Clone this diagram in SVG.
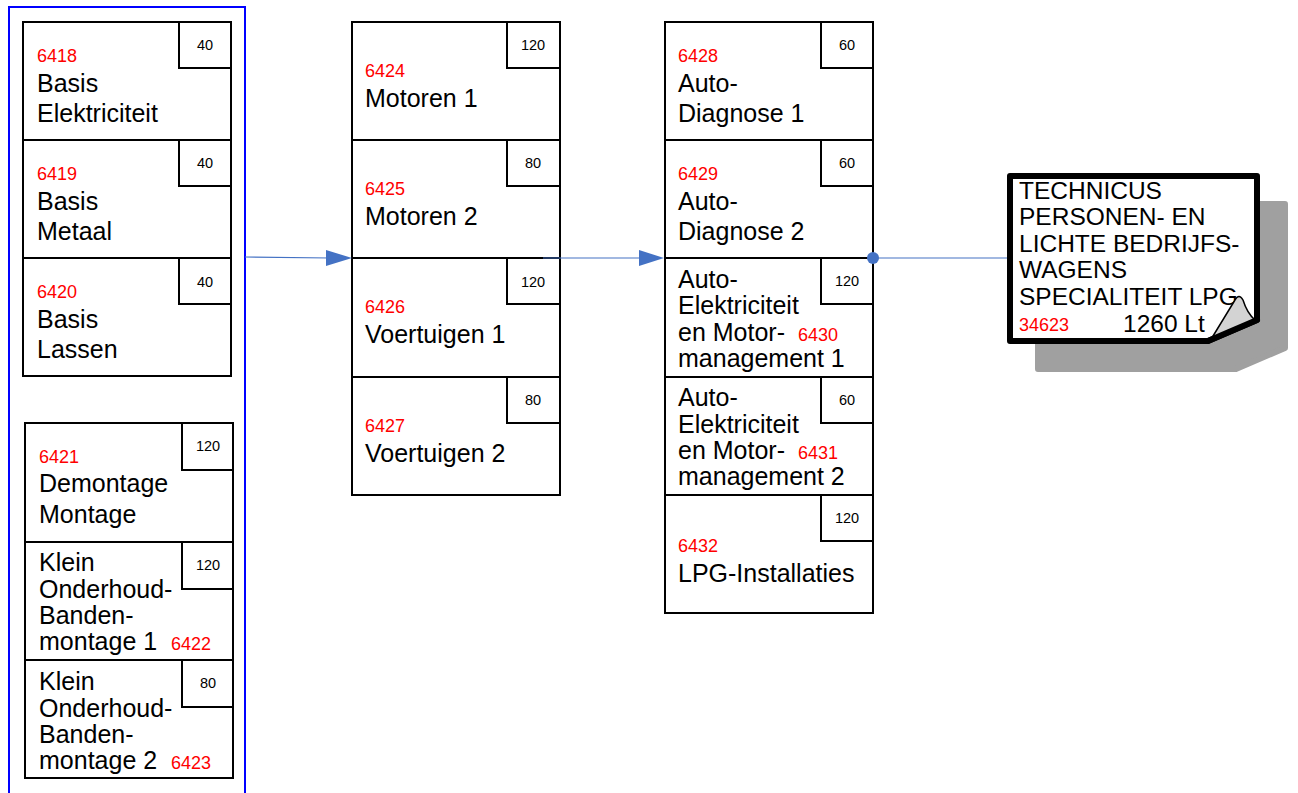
<svg xmlns="http://www.w3.org/2000/svg" width="1298" height="793" viewBox="0 0 1298 793">
<style>
.box{fill:#fff;stroke:#000;stroke-width:2}
.sm{fill:#fff;stroke:#000;stroke-width:2}
.t{font-family:"Liberation Sans",Arial,sans-serif;font-size:25px;fill:#000}
.r{font-family:"Liberation Sans",Arial,sans-serif;font-size:18px;fill:#ff0000}
.n{font-family:"Liberation Sans",Arial,sans-serif;font-size:14.5px;fill:#000;text-anchor:middle}
.d{font-family:"Liberation Sans",Arial,sans-serif;font-size:24.5px;fill:#000}
.c{stroke:#4472C4;stroke-width:1.2;fill:none}
.ah{fill:#4472C4}
</style>
<rect width="1298" height="793" fill="#fff"/>
<rect id="container" x="9" y="7" width="236" height="800" fill="none" stroke="#0000ff" stroke-width="2"/>

<g id="n6418"><rect class="box" x="23" y="22" width="208" height="118"/><rect class="sm" x="179" y="22" width="52" height="46"/><text class="n" x="205" y="50">40</text><text class="r" x="37" y="62">6418</text><text class="t" x="37" y="92">Basis</text><text class="t" x="37" y="122">Elektriciteit</text></g>
<g id="n6419"><rect class="box" x="23" y="140" width="208" height="118"/><rect class="sm" x="179" y="140" width="52" height="46"/><text class="n" x="205" y="168">40</text><text class="r" x="37" y="180">6419</text><text class="t" x="37" y="210">Basis</text><text class="t" x="37" y="240">Metaal</text></g>
<g id="n6420"><rect class="box" x="23" y="258" width="208" height="118"/><rect class="sm" x="179" y="258" width="52" height="46"/><text class="n" x="205" y="287">40</text><text class="r" x="37" y="298">6420</text><text class="t" x="37" y="328">Basis</text><text class="t" x="37" y="358">Lassen</text></g>

<g id="n6421"><rect class="box" x="25" y="423" width="208" height="119"/><rect class="sm" x="182" y="423" width="51" height="47"/><text class="n" x="208" y="451">120</text><text class="r" x="39" y="463">6421</text><text class="t" x="39" y="492">Demontage</text><text class="t" x="39" y="523">Montage</text></g>
<g id="n6422"><rect class="box" x="25" y="542" width="208" height="118"/><rect class="sm" x="182" y="542" width="51" height="47"/><text class="n" x="208" y="570">120</text><text class="t" x="39" y="571">Klein</text><text class="t" x="39" y="598">Onderhoud-</text><text class="t" x="39" y="624">Banden-</text><text class="t" x="39" y="650">montage 1</text><text class="r" x="171" y="650">6422</text></g>
<g id="n6423"><rect class="box" x="25" y="660" width="208" height="118"/><rect class="sm" x="182" y="660" width="51" height="47"/><text class="n" x="208" y="688">80</text><text class="t" x="39" y="690">Klein</text><text class="t" x="39" y="717">Onderhoud-</text><text class="t" x="39" y="743">Banden-</text><text class="t" x="39" y="769">montage 2</text><text class="r" x="171" y="769">6423</text></g>

<g id="n6424"><rect class="box" x="352" y="22" width="208" height="118"/><rect class="sm" x="507" y="22" width="53" height="46"/><text class="n" x="533" y="50">120</text><text class="r" x="365" y="77">6424</text><text class="t" x="365" y="107">Motoren 1</text></g>
<g id="n6425"><rect class="box" x="352" y="140" width="208" height="118"/><rect class="sm" x="507" y="140" width="53" height="46"/><text class="n" x="533" y="168">80</text><text class="r" x="365" y="195">6425</text><text class="t" x="365" y="225">Motoren 2</text></g>
<g id="n6426"><rect class="box" x="352" y="258" width="208" height="119"/><rect class="sm" x="507" y="258" width="53" height="46"/><text class="n" x="533" y="287">120</text><text class="r" x="365" y="313">6426</text><text class="t" x="365" y="343">Voertuigen 1</text></g>
<g id="n6427"><rect class="box" x="352" y="377" width="208" height="118"/><rect class="sm" x="507" y="377" width="53" height="46"/><text class="n" x="533" y="405">80</text><text class="r" x="365" y="432">6427</text><text class="t" x="365" y="462">Voertuigen 2</text></g>

<g id="n6428"><rect class="box" x="665" y="22" width="208" height="118"/><rect class="sm" x="821" y="22" width="52" height="46"/><text class="n" x="847" y="50">60</text><text class="r" x="678" y="62">6428</text><text class="t" x="678" y="92">Auto-</text><text class="t" x="678" y="122">Diagnose 1</text></g>
<g id="n6429"><rect class="box" x="665" y="140" width="208" height="118"/><rect class="sm" x="821" y="140" width="52" height="46"/><text class="n" x="847" y="168">60</text><text class="r" x="678" y="180">6429</text><text class="t" x="678" y="210">Auto-</text><text class="t" x="678" y="240">Diagnose 2</text></g>
<g id="n6430"><rect class="box" x="665" y="258" width="208" height="119"/><rect class="sm" x="821" y="258" width="52" height="46"/><text class="n" x="847" y="286">120</text><text class="t" x="678" y="288">Auto-</text><text class="t" x="678" y="314">Elektriciteit</text><text class="t" x="678" y="341">en Motor-</text><text class="r" x="798" y="341">6430</text><text class="t" x="678" y="367">management 1</text></g>
<g id="n6431"><rect class="box" x="665" y="377" width="208" height="118"/><rect class="sm" x="821" y="377" width="52" height="46"/><text class="n" x="847" y="405">60</text><text class="t" x="678" y="406">Auto-</text><text class="t" x="678" y="433">Elektriciteit</text><text class="t" x="678" y="459">en Motor-</text><text class="r" x="798" y="459">6431</text><text class="t" x="678" y="485">management 2</text></g>
<g id="n6432"><rect class="box" x="665" y="495" width="208" height="118"/><rect class="sm" x="821" y="495" width="52" height="46"/><text class="n" x="847" y="523">120</text><text class="r" x="678" y="552">6432</text><text class="t" x="678" y="582">LPG-Installaties</text></g>

<g id="connectors">
<line class="c" x1="245" y1="257" x2="330" y2="258"/>
<polygon class="ah" points="352,258 326,250 326,266"/>
<line class="c" x1="543" y1="258" x2="642" y2="258"/>
<polygon class="ah" points="664,258 639,250 639,266"/>
<line class="c" x1="873" y1="258" x2="1008" y2="258"/>
<circle class="ah" cx="873" cy="258" r="6"/>
</g>

<g id="n34623">
<path d="M1038,204 L1285,204 L1285,348 L1236,369 L1038,369 Z" fill="#a0a0a0" stroke="#a0a0a0" stroke-width="6" stroke-linejoin="round"/>
<path d="M1010,176 L1257,176 L1257,320 L1208,341 L1010,341 Z" fill="#fff" stroke="#000" stroke-width="6" stroke-linejoin="round"/>
<text class="d" x="1019" y="199">TECHNICUS</text>
<text class="d" x="1019" y="225">PERSONEN- EN</text>
<text class="d" x="1019" y="252">LICHTE BEDRIJFS-</text>
<text class="d" x="1019" y="278">WAGENS</text>
<text class="d" x="1019" y="305">SPECIALITEIT LPG</text>
<text class="r" x="1019" y="331">34623</text>
<text class="d" x="1123" y="332">1260 Lt</text>
<path d="M1210,341 L1235,300 Q1239,293 1243,300 Q1247,313 1255,320 Z" fill="#d3d3d3" stroke="#000" stroke-width="1.5" stroke-linejoin="round"/>
<line x1="1208" y1="341" x2="1257" y2="320" stroke="#000" stroke-width="6" stroke-linecap="round"/>
</g>
</svg>
